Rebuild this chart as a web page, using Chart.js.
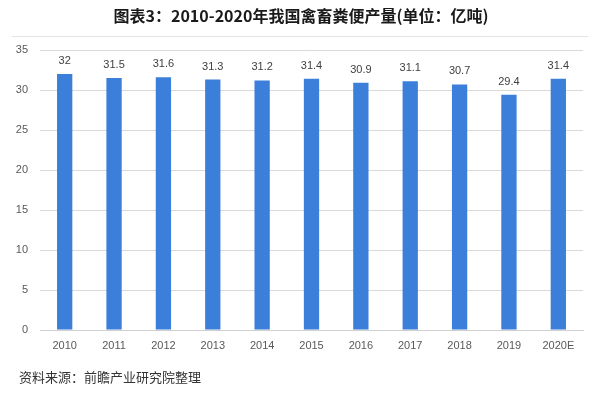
<!DOCTYPE html>
<html><head><meta charset="utf-8">
<script src="https://cdn.jsdelivr.net/npm/chart.js@4/dist/chart.umd.min.js"></script>
<style>html,body{margin:0;padding:0;background:#fff}#wrap{width:604px;height:396px;position:relative}</style>
</head><body><div id="wrap"><canvas id="c" width="604" height="396"></canvas></div>
<script>
const titleText = '图表3：2010-2020年我国禽畜粪便产量(单位：亿吨)';
const sourceText = '资料来源：前瞻产业研究院整理';
const categories = ['2010','2011','2012','2013','2014','2015','2016','2017','2018','2019','2020E'];
const values = [32, 31.5, 31.6, 31.3, 31.2, 31.4, 30.9, 31.1, 30.7, 29.4, 31.4];
const yTicks = [0, 5, 10, 15, 20, 25, 30, 35];

const FONT = '"Noto Sans CJK SC","Microsoft YaHei",sans-serif';

const decor = {
  id: 'decor',
  beforeDraw(chart) {
    const ctx = chart.ctx;
    ctx.save();
    ctx.fillStyle = '#fff';
    ctx.fillRect(0, 0, chart.width, chart.height);
    ctx.fillStyle = '#1a1a1a';
    ctx.font = 'bold 16px ' + FONT;
    ctx.textAlign = 'center';
    ctx.textBaseline = 'middle';
    ctx.fillText(titleText, 301, 16);
    ctx.strokeStyle = '#e3e3e3';
    ctx.lineWidth = 1;
    ctx.beginPath();
    ctx.moveTo(12, 36.5);
    ctx.lineTo(588, 36.5);
    ctx.stroke();
    ctx.fillStyle = '#333';
    ctx.font = '13px ' + FONT;
    ctx.textAlign = 'left';
    ctx.fillText(sourceText, 19, 377);
    ctx.restore();
  },
  afterDatasetsDraw(chart) {
    const ctx = chart.ctx;
    const meta = chart.getDatasetMeta(0);
    ctx.save();
    ctx.fillStyle = '#404040';
    ctx.font = '11px "Liberation Sans", Arial, sans-serif';
    ctx.textAlign = 'center';
    ctx.textBaseline = 'middle';
    meta.data.forEach((bar, i) => {
      ctx.fillText(String(values[i]), bar.x, bar.y - 13);
    });
    ctx.restore();
  }
};

new Chart(document.getElementById('c'), {
  type: 'bar',
  data: {
    labels: categories,
    datasets: [{
      data: values,
      backgroundColor: '#3c7fdb',
      categoryPercentage: 1,
      barPercentage: 0.31
    }]
  },
  options: {
    responsive: false,
    animation: false,
    devicePixelRatio: 1,
    layout: { padding: { left: 0, right: 21, top: 50, bottom: 36 } },
    plugins: { legend: { display: false }, tooltip: { enabled: false } },
    scales: {
      x: {
        grid: { display: false, drawTicks: false },
        border: { color: '#d0d0d0' },
        ticks: { color: '#595959', font: { size: 11, family: '"Liberation Sans", Arial, sans-serif' }, padding: 9, maxRotation: 0 },
        afterFit(s) { s.height = 30; }
      },
      y: {
        min: 0, max: 35,
        afterBuildTicks(s) { s.ticks = yTicks.map(v => ({ value: v })); },
        grid: { color: '#d9d9d9', drawTicks: false },
        border: { display: false },
        ticks: { color: '#595959', font: { size: 11, family: '"Liberation Sans", Arial, sans-serif' }, padding: 12 },
        afterFit(s) { s.width = 40; }
      }
    }
  },
  plugins: [decor]
});
</script></body></html>
